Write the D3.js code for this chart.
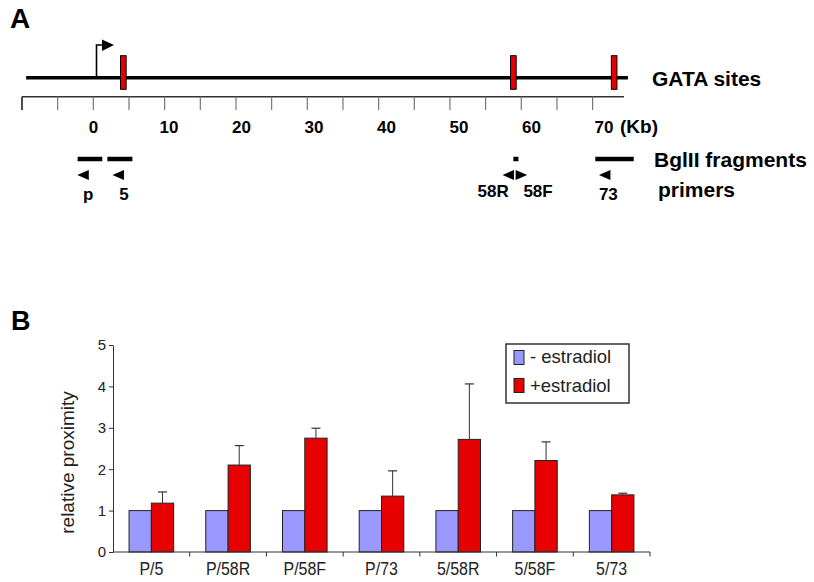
<!DOCTYPE html>
<html><head><meta charset="utf-8">
<script src="https://cdn.jsdelivr.net/npm/d3@7"></script>
<style>
html,body{margin:0;padding:0;background:#fff;}
svg{display:block;}
</style></head>
<body>
<svg id="chart" width="814" height="582"></svg>
<script>
// ---------- Panel A data (kb) ----------
const geneRegion = [-9.7, 73.3];
const promoterKb = 0;
const gataSites = [3.7, 57.5, 71.4];
const rulerExtent = [-10, 74.4];
const rulerTicks = d3.range(-10, 71, 5);
const kbLabels = [0, 10, 20, 30, 40, 50, 60, 70];
const fragStarts = [-2.6, 1.5, 57.5, 68.8];
const fragEnds = [0.8, 4.95, 58.2, 74.1];
const primerNames = ["p", "5", "58R", "58F", "73"];
const primerTips = [-2.65, 2.2, 56.0, 59.4, 69.3];
const primerDirs = [-1, -1, -1, 1, -1];
const primerLabelAt = [-1.13, 3.8, 54.7, 60.9, 70.6];
const rowLabels = ["GATA sites", "BglII fragments", "primers"];

// ---------- Panel B data ----------
const categories = ["P/5", "P/58R", "P/58F", "P/73", "5/58R", "5/58F", "5/73"];
const minusEstradiol = [1, 1, 1, 1, 1, 1, 1];
const plusEstradiol = [1.18, 2.10, 2.75, 1.35, 2.72, 2.21, 1.38];
const plusError = [0.27, 0.47, 0.24, 0.61, 1.34, 0.45, 0.04];
const yTicks = [0, 1, 2, 3, 4, 5];
const seriesNames = ["- estradiol", "+estradiol"];
const seriesColors = ["#9999ff", "#e60000"];

const svg = d3.select("#chart");
const boldFont = "'Liberation Sans', Arial, sans-serif";
const plainFont = "'Liberation Sans', Arial, sans-serif";

// ================= Panel A =================
const gA = svg.append("g");
gA.append("text").attr("x", 10).attr("y", 28).text("A")
  .attr("font-family", boldFont).attr("font-weight", "bold").attr("font-size", 28);

const fx = d3.scaleLinear().domain([0, 70]).range([96.5, 604]);
const rx = d3.scaleLinear().domain([-10, 70]).range([22, 592.6]);
const lineY = 77.7;

// main line
gA.append("line").attr("x1", fx(geneRegion[0])).attr("x2", fx(geneRegion[1]))
  .attr("y1", lineY).attr("y2", lineY).attr("stroke", "#000").attr("stroke-width", 3.5);

// promoter arrow
const px = fx(promoterKb);
gA.append("path").attr("d", `M${px},${lineY} V45 H${px + 6}`)
  .attr("fill", "none").attr("stroke", "#000").attr("stroke-width", 1.6);
gA.append("path").attr("d", `M${px + 5.5},39.5 L${px + 17.5},45 L${px + 5.5},51 Z`).attr("fill", "#000");

// GATA sites
gA.selectAll("rect.gata").data(gataSites).join("rect").attr("class", "gata")
  .attr("x", d => fx(d) - 2.8).attr("width", 5.6).attr("y", 55.7).attr("height", 33.6)
  .attr("fill", "#e60000").attr("stroke", "#000").attr("stroke-width", 1);

// ruler
const rulerY = 96.7;
gA.append("line").attr("x1", rx(rulerExtent[0])).attr("x2", rx(rulerExtent[1]))
  .attr("y1", rulerY).attr("y2", rulerY).attr("stroke", "#333").attr("stroke-width", 1.5);
gA.selectAll("line.rtick").data(rulerTicks).join("line").attr("class", "rtick")
  .attr("x1", d => rx(d)).attr("x2", d => rx(d)).attr("y1", rulerY).attr("y2", 110)
  .attr("stroke", (d, i) => i === 0 ? "#222" : "#777").attr("stroke-width", (d, i) => i === 0 ? 1.6 : 1.2);

gA.selectAll("text.kb").data(kbLabels).join("text").attr("class", "kb")
  .attr("x", (d, i) => i === 0 ? fx(d) - 3 : fx(d)).attr("y", 133).attr("text-anchor", "middle")
  .attr("font-family", boldFont).attr("font-weight", "bold").attr("font-size", 17)
  .text(d => d);
gA.append("text").attr("x", fx(70) + 16).attr("y", 133)
  .attr("font-family", boldFont).attr("font-weight", "bold").attr("font-size", 19).text("(Kb)");

// fragments
gA.selectAll("line.frag").data(fragStarts).join("line").attr("class", "frag")
  .attr("x1", d => fx(d)).attr("x2", (d, i) => fx(fragEnds[i]))
  .attr("y1", 159).attr("y2", 159).attr("stroke", "#000").attr("stroke-width", 4.5);

// primers
const primerData = primerNames.map((n, i) => ({ n, tip: primerTips[i], dir: primerDirs[i], lab: primerLabelAt[i] }));
gA.selectAll("path.primer").data(primerData).join("path").attr("class", "primer")
  .attr("d", d => {
    const t = fx(d.tip), b = t - d.dir * 11.5;
    return `M${t},175 L${b},170 L${b},180 Z`;
  }).attr("fill", "#000");
gA.selectAll("text.primer").data(primerData).join("text").attr("class", "primer")
  .attr("x", d => fx(d.lab)).attr("y", d => d.n.startsWith("58") ? 197 : 200)
  .attr("text-anchor", "middle")
  .attr("font-family", boldFont).attr("font-weight", "bold").attr("font-size", 17)
  .text(d => d.n);

// row labels
const rowX = [652, 654, 658], rowY = [86, 166.7, 196.7];
gA.selectAll("text.row").data(rowLabels).join("text").attr("class", "row")
  .attr("x", (d, i) => rowX[i]).attr("y", (d, i) => rowY[i])
  .attr("font-family", boldFont).attr("font-weight", "bold").attr("font-size", 21)
  .text(d => d);

// ================= Panel B =================
const gB = svg.append("g");
gB.append("text").attr("x", 11).attr("y", 329.5).text("B")
  .attr("font-family", boldFont).attr("font-weight", "bold").attr("font-size", 27);

const x = d3.scaleBand().domain(categories).range([113, 650]).paddingInner(0).paddingOuter(0);
const xs = d3.scaleBand().domain([0, 1]).range([0, x.bandwidth()]).paddingInner(0).paddingOuter(0.72);
const y = d3.scaleLinear().domain([0, 5]).range([552, 345]);

const groups = categories.map((c, i) => ({ c, vals: [minusEstradiol[i], plusEstradiol[i]], err: plusError[i] }));

// bars
const gBars = gB.append("g");
groups.forEach(g => {
  g.vals.forEach((v, s) => {
    gBars.append("rect")
      .attr("x", x(g.c) + xs(s)).attr("width", xs.bandwidth())
      .attr("y", y(v)).attr("height", y(0) - y(v))
      .attr("fill", seriesColors[s]).attr("stroke", "#222").attr("stroke-width", 1);
  });
});

// error bars (plus series)
const gErr = gB.append("g");
groups.forEach(g => {
  const cx = x(g.c) + xs(1) + xs.bandwidth() / 2;
  const top = y(g.vals[1] + g.err);
  gErr.append("line").attr("x1", cx).attr("x2", cx).attr("y1", y(g.vals[1])).attr("y2", top)
    .attr("stroke", "#333").attr("stroke-width", 1);
  gErr.append("line").attr("x1", cx - 4.5).attr("x2", cx + 4.5).attr("y1", top).attr("y2", top)
    .attr("stroke", "#333").attr("stroke-width", 1.2);
});

// y axis
const yAxis = gB.append("g").attr("transform", "translate(113,0)")
  .call(d3.axisLeft(y).tickValues(yTicks).tickFormat(d3.format("d")).tickSize(4).tickPadding(3).tickSizeOuter(0));
yAxis.select(".domain").attr("stroke", "#333");
yAxis.selectAll(".tick line").attr("stroke", "#333");
yAxis.selectAll(".tick text").attr("font-family", plainFont)
  .attr("font-size", 15).attr("fill", "#222");

// x axis
const xAxisG = gB.append("g").attr("transform", "translate(0,552)");
xAxisG.append("line").attr("x1", 113).attr("x2", 650).attr("y1", 0).attr("y2", 0)
  .attr("stroke", "#333").attr("stroke-width", 1.2);
const boundaries = categories.map(c => x(c) + x.bandwidth());
xAxisG.selectAll("line.xt").data(boundaries).join("line").attr("class", "xt")
  .attr("x1", d => d).attr("x2", d => d).attr("y1", 0).attr("y2", 4.5)
  .attr("stroke", "#333").attr("stroke-width", 1);
xAxisG.selectAll("text.xl").data(categories).join("text").attr("class", "xl")
  .attr("transform", d => `translate(${x(d) + x.bandwidth() / 2},23) scale(0.84,1)`)
  .attr("text-anchor", "middle")
  .attr("font-family", plainFont).attr("font-size", 19).attr("fill", "#222")
  .text(d => d);

// y title
gB.append("text").attr("transform", "translate(74,462.5) rotate(-90)")
  .attr("text-anchor", "middle")
  .attr("font-family", plainFont).attr("font-size", 19).attr("fill", "#222")
  .text("relative proximity");

// legend
const lg = gB.append("g");
lg.append("rect").attr("x", 506).attr("y", 344).attr("width", 123).attr("height", 59)
  .attr("fill", "#fff").attr("stroke", "#333").attr("stroke-width", 1.5);
seriesNames.forEach((n, i) => {
  lg.append("rect").attr("x", 514).attr("y", 350.5 + i * 28).attr("width", 10).attr("height", 14)
    .attr("fill", seriesColors[i]).attr("stroke", "#222").attr("stroke-width", 1);
  lg.append("text").attr("x", 530).attr("y", 363 + i * 28.5)
    .attr("font-family", plainFont).attr("font-size", 18.5).attr("fill", "#222")
    .text(n);
});
</script>
</body></html>
